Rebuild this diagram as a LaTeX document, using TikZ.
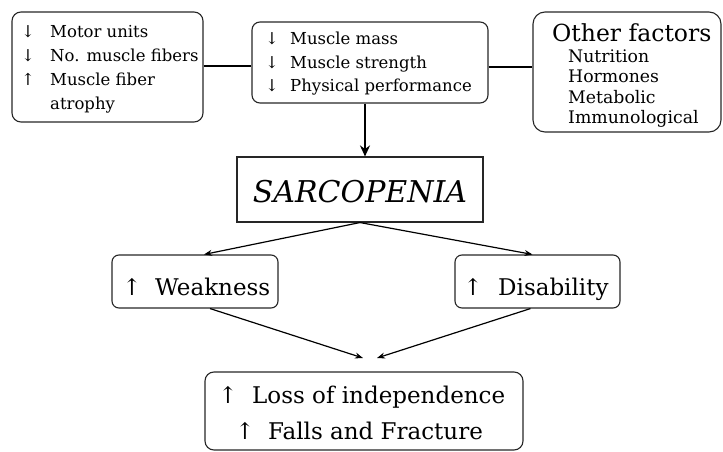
\documentclass[tikz,border=0pt]{standalone}
\usepackage{fontspec}
\setmainfont{DejaVu Serif}
\usetikzlibrary{arrows.meta}
\tikzset{
  x=1pt, y=-1pt,
  rbox/.style={draw=black!85, line width=1.1pt, rounded corners=9pt, minimum width=#1, inner sep=0pt},
  sbox/.style={draw=black!85, line width=1.1pt, inner sep=0pt},
  txt/.style={anchor=base west, inner sep=0pt},
  arr/.style={anchor=base, inner sep=0pt},
  link/.style={line width=1.3pt},
  thin arrow/.style={line width=1.2pt, -{Stealth[length=8pt,width=6pt]}},
  thick arrow/.style={line width=2.8pt, -{Stealth[length=11pt,width=10pt]}},
  fa/.style={font=\fontsize{16.5}{20}\selectfont},
  fb/.style={font=\fontsize{17.3}{20}\selectfont},
  fc/.style={font=\fontsize{23}{26}\selectfont},
}
\begin{document}
\begin{tikzpicture}
\useasboundingbox (0,0) rectangle (723,452);
% boxes
\node[rbox=191pt, minimum height=110pt] (left) at (107.5,67) {};
\node[rbox=236pt, minimum height=81pt, rounded corners=8pt] (mid) at (370,62.5) {};
\node[rbox=188pt, minimum height=120pt, rounded corners=12pt] (other) at (627,72) {};
\node[sbox, minimum width=246pt, minimum height=65pt] (sarc) at (360,189.5) {};
\node[rbox=166pt, minimum height=53pt, rounded corners=7pt] (weak) at (195,281.5) {};
\node[rbox=165pt, minimum height=53pt, rounded corners=7pt] (dis) at (537.5,281.5) {};
\node[rbox=318pt, minimum height=78pt, rounded corners=9pt] (bot) at (364,411) {};
% left box text
\node[arr, fa] (la1) at (28,38) {↓};
\node[txt, fa] (lt1) at (50,38) {Motor units};
\node[arr, fa] (la2) at (28,62) {↓};
\node[txt, fa] (lt2) at (50,62) {No. muscle fibers};
\node[arr, fa] (la3) at (28,85.5) {↑};
\node[txt, fa] (lt3) at (50,85.5) {Muscle fiber};
\node[txt, fa] (lt4) at (50,109) {atrophy};
% middle box text
\node[arr, fa] (ma1) at (272,45) {↓};
\node[txt, fa] (mt1) at (290,45) {Muscle mass};
\node[arr, fa] (ma2) at (272,68.5) {↓};
\node[txt, fa] (mt2) at (290,68.5) {Muscle strength};
\node[arr, fa] (ma3) at (272,92) {↓};
\node[txt, fa] (mt3) at (290,92) {Physical performance};
% other factors text
\node[txt, font=\fontsize{23.5}{26}\selectfont] (ot0) at (552,42) {Other factors};
\node[txt, fb] (ot1) at (568,63) {Nutrition};
\node[txt, fb] (ot2) at (568,83) {Hormones};
\node[txt, fb] (ot3) at (568,103) {Metabolic};
\node[txt, fb] (ot4) at (568,123) {Immunological};
% sarcopenia
\node[arr, font=\fontsize{30}{32}\selectfont\itshape] (st) at (360,202) {SARCOPENIA};
% weakness / disability
\node[arr, fc] (wa) at (132,295) {↑};
\node[txt, fc] (wt) at (155,295) {Weakness};
\node[arr, fc] (da) at (473,295) {↑};
\node[txt, fc] (dt) at (498,295) {Disability};
% bottom text
\node[arr, fc] (ba1) at (228,403) {↑};
\node[txt, fc] (bt1) at (252,403) {Loss of independence};
\node[arr, fc] (ba2) at (245,439) {↑};
\node[txt, fc] (bt2) at (268,439) {Falls and Fracture};
% connectors
\draw[link] (left.east |- 0,66) -- (mid.west |- 0,66);
\draw[link] (mid.east |- 0,67) -- (other.west |- 0,67);
\draw[thick arrow] ([xshift=-5pt]mid.south) -- ([xshift=5pt]sarc.north);
\draw[thin arrow] (sarc.south) -- ([xshift=9pt]weak.north);
\draw[thin arrow] (sarc.south) -- ([xshift=-5pt]dis.north);
\coordinate (tipL) at (363,358);
\coordinate (tipR) at (377,358);
\draw[thin arrow] ([xshift=15pt]weak.south) -- (tipL);
\draw[thin arrow] ([xshift=-7pt]dis.south) -- (tipR);
\end{tikzpicture}
\end{document}
